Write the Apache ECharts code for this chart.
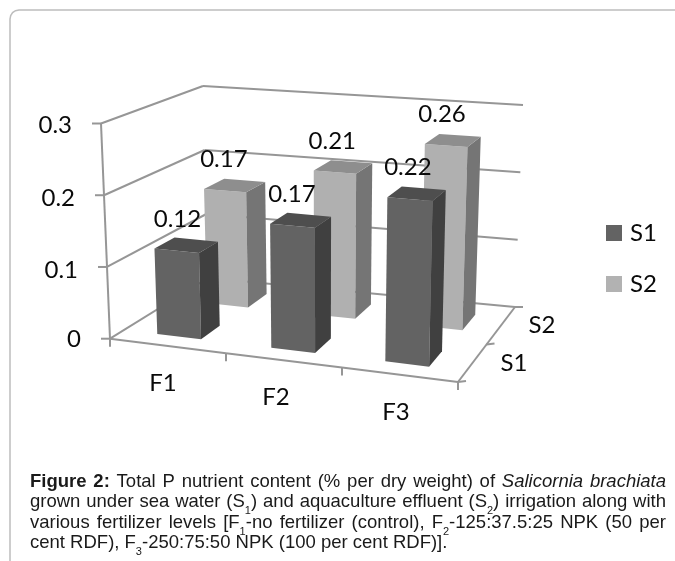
<!DOCTYPE html>
<html><head><meta charset="utf-8">
<style>html,body{margin:0;padding:0;background:#fff}#c{width:675px;height:561px}</style>
<script src="https://cdn.jsdelivr.net/npm/echarts@6/dist/echarts.min.js"></script>
</head><body><div id="c"></div>
<script>
const categories = ['F1', 'F2', 'F3'];
const depthCategories = ['S1', 'S2'];
const s1Values = [0.12, 0.17, 0.22];
const s2Values = [0.17, 0.21, 0.26];
const valueTicks = [0, 0.1, 0.2, 0.3];
const valueTickLabels = ['0', '0.1', '0.2', '0.3'];

// Caption: lines of words; each word is a list of runs
const captionLines = [
  [[['Figure','b']],[['2:','b']],[['Total']],[['P']],[['nutrient']],[['content']],[['(%']],[['per']],[['dry']],[['weight)']],[['of']],[['Salicornia','i']],[['brachiata','i']]],
  [[['grown']],[['under']],[['sea']],[['water']],[['(S'],['1','s'],[')']],[['and']],[['aquaculture']],[['effluent']],[['(S'],['2','s'],[')']],[['irrigation']],[['along']],[['with']]],
  [[['various']],[['fertilizer']],[['levels']],[['[F'],['1','s'],['-no']],[['fertilizer']],[['(control),']],[['F'],['2','s'],['-125:37.5:25']],[['NPK']],[['(50']],[['per']]],
  [[['cent']],[['RDF),']],[['F'],['3','s'],['-250:75:50']],[['NPK']],[['(100']],[['per']],[['cent']],[['RDF)].']]]
];

const cat3d = {
  b00:[110,338.7], b10:[458,382], b01:[208,278], b11:[515,307],
  t00:[101,123.5], t10:[464,150], t01:[203,86], t11:[523,105]
};
function lerp(a,b,t){return [a[0]+(b[0]-a[0])*t,a[1]+(b[1]-a[1])*t];}
function project(u,v,h){
  const bot=lerp(lerp(cat3d.b00,cat3d.b10,u),lerp(cat3d.b01,cat3d.b11,u),v);
  const top=lerp(lerp(cat3d.t00,cat3d.t10,u),lerp(cat3d.t01,cat3d.t11,u),v);
  return lerp(bot,top,h);
}
const FONT='24px Lato, sans-serif', LINE='#969696', TXT='#0a0a0a';
function line(a,b,w){return {type:'line',shape:{x1:a[0],y1:a[1],x2:b[0],y2:b[1]},style:{stroke:LINE,lineWidth:w||2}};}
function label(t,p){return {type:'text',style:{text:t,x:p[0],y:p[1],fill:TXT,font:FONT,align:'center',verticalAlign:'middle'}};}
function normU(params,api,i){const c=api.coord([i,0]);return (c[0]-params.coordSys.x)/params.coordSys.width;}
function normH(params,api,val){const c=api.coord([0,val]);return (params.coordSys.y+params.coordSys.height-c[1])/params.coordSys.height;}

function barRender(rowIdx,front,side,top){
  return function(params,api){
    const i=api.value(0),val=api.value(1);
    const uc=normU(params,api,i)-(rowIdx?-0.002:0.006), vc=(rowIdx+0.5)/depthCategories.length;
    const du=0.064, dv=0.105, h=normH(params,api,val);
    const P=(su,sv,hh)=>project(uc+su*du,vc+sv*dv,hh);
    const poly=(pts,c)=>({type:'polygon',shape:{points:pts},style:{fill:c}});
    const tc=P(0,0,h);
    return {type:'group',children:[
      poly([P(-1,-1,0),P(1,-1,0),P(1,-1,h),P(-1,-1,h)],front),
      poly([P(1,-1,0),P(1,1,0),P(1,1,h),P(1,-1,h)],side),
      poly([P(-1,-1,h),P(1,-1,h),P(1,1,h),P(-1,1,h)],top),
      label(String(val),[tc[0]-(rowIdx?11:9),tc[1]-26])
    ]};
  };
}
const labelPos=[[81,339],[78,270],[75,198],[72,125]];

const option={
  animation:false,
  backgroundColor:'#fff',
  grid:{left:100,top:80,width:420,height:260,show:false},
  xAxis:{type:'category',data:categories,show:false},
  yAxis:{type:'value',min:0,max:0.3,interval:0.1,show:false},
  legend:{orient:'vertical',left:601,top:216,itemWidth:16,itemHeight:16,itemGap:27,icon:'rect',
    data:['S1','S2'],textStyle:{fontFamily:'Lato, sans-serif',fontSize:24,color:TXT,padding:[0,0,0,3]}},
  series:[
    {type:'custom',name:'walls',z:1,silent:true,data:valueTicks.map(v=>[0,v]),
     renderItem(params,api){
       const v=api.value(1),h=normH(params,api,v);
       const a=project(0,0,h),b=project(0,1,h),c=project(1,1,h);
       const children=[line([a[0]-9,a[1]],a),line(a,b),line(b,c)];
       const idx=valueTicks.indexOf(v);
       if(idx<valueTicks.length-1){const up=project(0,0,normH(params,api,valueTicks[idx+1]));children.push(line(a,up));}
       children.push({type:'text',style:{text:valueTickLabels[idx],x:labelPos[idx][0],y:labelPos[idx][1],fill:TXT,font:FONT,align:'right',verticalAlign:'middle'}});
       return {type:'group',children};
     }},
    {type:'custom',name:'floor',z:1,silent:true,data:categories.map((c,i)=>[i,0]),
     renderItem(params,api){
       const i=api.value(0),n=categories.length;
       const children=[];
       const u0=i/n,u1=(i+1)/n;
       const a=project(u0,0,0),b=project(u1,0,0);
       children.push(line(a,b));
       children.push(line(a,[a[0],a[1]+8]));
       if(i===n-1){
         children.push(line(b,[b[0],b[1]+8]));
         children.push(line(project(1,0,0),project(1,1,0)));
         depthCategories.forEach((d,j)=>{
           const p=project(1,j/depthCategories.length,0);
           children.push(line(p,[p[0]+8,p[1]-1]));
         });
         const e=project(1,1,0);children.push(line(e,[e[0]+8,e[1]]));
         children.push(label(depthCategories[0],[514,363]));
         children.push(label(depthCategories[1],[542,325]));
       }
       const m=[[163,383],[276,397],[396,412]][i];
       children.push(label(categories[i],m));
       return {type:'group',children};
     }},
    {type:'custom',name:'S2',z:3,itemStyle:{color:'#b2b2b2'},data:s2Values.map((v,i)=>[i,v]),
     renderItem:barRender(1,'#b0b0b0','#757575','#8e8e8e')},
    {type:'custom',name:'S1',z:4,itemStyle:{color:'#636363'},data:s1Values.map((v,i)=>[i,v]),
     renderItem:barRender(0,'#636363','#404040','#4e4e4e')}
  ],
  graphic:[]
};

// Caption layout (justified)
const FS=18.5, X0=30, X1=666, Y0=482, LH=20.3;
const mctx=document.createElement('canvas').getContext('2d');
function fontOf(k){const fam='"Liberation Sans", Arial, sans-serif';
  if(k==='b')return 'bold '+FS+'px '+fam;
  if(k==='i')return 'italic '+FS+'px '+fam;
  if(k==='s')return '11px '+fam;
  return FS+'px '+fam;}
function widthOf(run){mctx.font=fontOf(run[1]);return mctx.measureText(run[0]).width;}
const gfx=[{type:'polyline',silent:true,shape:{points:[[10,561],[10,19],[10.7,15.5],[12.6,12.6],[15.5,10.7],[19,10],[675,10]]},style:{fill:'none',stroke:'#bdbdbd',lineWidth:1.5}}];
captionLines.forEach((words,li)=>{
  const ws=words.map(w=>w.reduce((s,r)=>s+widthOf(r),0));
  const total=ws.reduce((a,b)=>a+b,0);
  mctx.font=fontOf();
  const gap=li<captionLines.length-1?(X1-X0-total)/(words.length-1):mctx.measureText(' ').width;
  let x=X0;const y=Y0+li*LH;
  words.forEach((w,wi)=>{
    let xx=x;
    w.forEach(r=>{
      gfx.push({type:'text',silent:true,style:{text:r[0],x:xx,y:r[1]==='s'?y+9:y,font:fontOf(r[1]),fill:'#1a1a1a',align:'left',verticalAlign:'middle'}});
      xx+=widthOf(r);
    });
    x+=ws[wi]+gap;
  });
});
option.graphic=gfx;
const chart=echarts.init(document.getElementById('c'),null,{renderer:'canvas'});
chart.setOption(option);
</script></body></html>
